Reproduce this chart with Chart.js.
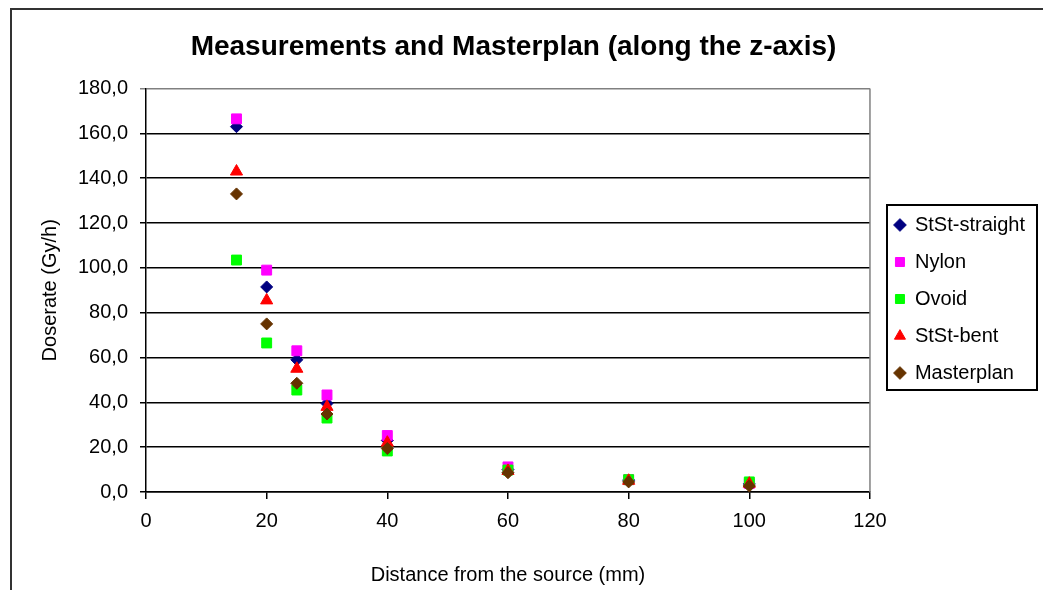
<!DOCTYPE html>
<html>
<head>
<meta charset="utf-8">
<script src="https://cdn.jsdelivr.net/npm/chart.js@4.4.1/dist/chart.umd.min.js"></script>
<style>
  html, body { margin: 0; padding: 0; background: #ffffff; }
  #wrap { width: 1043px; height: 590px; }
</style>
</head>
<body>
<div id="wrap"><canvas id="c" width="1043" height="590"></canvas></div>
<script>
const chartTitle = 'Measurements and Masterplan (along the z-axis)';
const xTitle = 'Distance from the source (mm)';
const yTitle = 'Doserate (Gy/h)';
const distances = [15, 20, 25, 30, 40, 60, 80, 100];
const ststStraight = [163, 91.5, 59, 39.5, 23, 10, 5.3, 3.6];
const nylon = [166.5, 99, 63, 43.3, 25.2, 11.2, 5.5, 3.8];
const ovoid = [103.5, 66.5, 45.5, 33, 18.3, 9.8, 5.5, 4.5];
const ststBent = [143, 85.5, 55, 38, 22, 9.4, 5, 3.7];
const masterplan = [133, 75, 48.5, 34.8, 19.4, 8.6, 4.5, 2.7];
const seriesNames = ['StSt-straight', 'Nylon', 'Ovoid', 'StSt-bent', 'Masterplan'];
const yTicks = [0, 20, 40, 60, 80, 100, 120, 140, 160, 180];
const xTicks = [0, 20, 40, 60, 80, 100, 120];

const FONT = "'Liberation Sans', Arial, sans-serif";
const LEGEND_SHIFT_Y = 4;

function pts(ys) { return distances.map((x, i) => ({ x: x, y: ys[i] })); }

const frame = {
  id: 'frame',
  beforeDraw(chart) {
    const ctx = chart.ctx;
    ctx.save();
    ctx.fillStyle = '#ffffff';
    ctx.fillRect(0, 0, chart.width, chart.height);
    ctx.strokeStyle = '#333333';
    ctx.lineWidth = 2;
    ctx.strokeRect(11, 9, chart.width + 20, chart.height + 20);
    ctx.restore();
  },
  afterLayout(chart) {
    const lg = chart.legend;
    if (lg) {
      lg.left += 8; lg.right += 8;
      lg.top += LEGEND_SHIFT_Y; lg.bottom += LEGEND_SHIFT_Y;
    }
  },
  afterDraw(chart) {
    const ctx = chart.ctx;
    const a = chart.chartArea;
    ctx.save();
    ctx.strokeStyle = '#808080';
    ctx.lineWidth = 1.5;
    ctx.beginPath();
    ctx.moveTo(a.right, a.top);
    ctx.lineTo(a.right, a.bottom);
    ctx.stroke();
    const lg = chart.legend;
    if (lg && lg.legendHitBoxes && lg.legendHitBoxes.length) {
      const hb = lg.legendHitBoxes;
      const top = hb[0].top - 14 + LEGEND_SHIFT_Y;
      const bottom = hb[hb.length - 1].top + hb[hb.length - 1].height + 3 + LEGEND_SHIFT_Y;
      ctx.strokeStyle = '#000000';
      ctx.lineWidth = 2;
      ctx.strokeRect(887, top, 150, bottom - top);
    }
    ctx.restore();
  }
};

const colors = ['#000080', '#FF00FF', '#00FF00', '#FF0000', '#663300'];
const styles = ['rectRot', 'rect', 'rect', 'triangle', 'rectRot'];
const radii = [6, 7, 7, 7, 6];
const values = [ststStraight, nylon, ovoid, ststBent, masterplan];

const datasets = seriesNames.map((n, i) => ({
  label: n,
  data: pts(values[i]),
  pointStyle: styles[i],
  pointRadius: radii[i],
  pointHoverRadius: radii[i],
  backgroundColor: colors[i],
  borderColor: colors[i],
  pointBorderWidth: 1,
  showLine: false,
  order: seriesNames.length - 1 - i
}));

new Chart(document.getElementById('c'), {
  type: 'scatter',
  data: { datasets: datasets },
  plugins: [frame],
  options: {
    responsive: false,
    animation: false,
    layout: { padding: { left: 0, right: 16, top: 0, bottom: 0 } },
    plugins: {
      tooltip: { enabled: false },
      title: {
        display: true,
        text: chartTitle,
        color: '#000000',
        font: { family: FONT, size: 28, weight: 'bold' },
        padding: { top: 30, bottom: 25 }
      },
      legend: {
        position: 'right',
        labels: {
          usePointStyle: true,
          boxWidth: 10,
          boxHeight: 9,
          padding: 17,
          color: '#000000',
          font: { family: FONT, size: 20 },
          sort: (a, b) => a.datasetIndex - b.datasetIndex
        }
      }
    },
    scales: {
      x: {
        type: 'linear',
        min: 0, max: 120,
        afterBuildTicks: (s) => { s.ticks = xTicks.map(v => ({ value: v })); },
        afterFit: (s) => { s.height = 98; },
        ticks: { color: '#000000', font: { family: FONT, size: 20 }, padding: 10, maxRotation: 0 },
        grid: { drawOnChartArea: false, drawTicks: true, tickLength: 7, color: '#000000', lineWidth: 1.5 },
        border: { color: '#000000', width: 1.5 },
        title: { display: true, text: xTitle, color: '#000000', font: { family: FONT, size: 20 }, padding: { top: 5, bottom: 3 } }
      },
      y: {
        type: 'linear',
        min: 0, max: 180,
        afterBuildTicks: (s) => { s.ticks = yTicks.map(v => ({ value: v })); },
        afterFit: (s) => { s.width = 146; },
        ticks: {
          color: '#000000', font: { family: FONT, size: 20 }, padding: 12,
          callback: (v) => v.toFixed(1).replace('.', ',')
        },
        grid: {
          drawOnChartArea: true, drawTicks: true, tickLength: 6,
          color: (c) => (c.tick && c.tick.value === 180) ? '#808080' : '#000000',
          lineWidth: 1.5
        },
        border: { color: '#000000', width: 1.5 },
        title: { display: true, text: yTitle, color: '#000000', font: { family: FONT, size: 20 }, padding: { top: 38, bottom: 0 } }
      }
    }
  }
});
</script>
</body>
</html>
